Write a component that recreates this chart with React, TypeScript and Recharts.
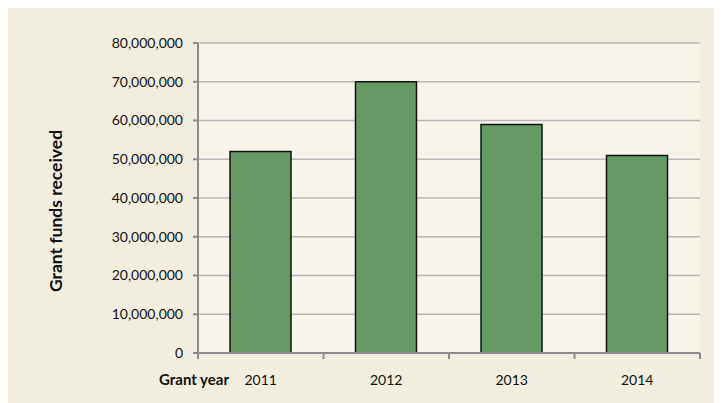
import React from 'react';
import { BarChart, Bar, XAxis, YAxis, CartesianGrid, Label } from 'recharts';

const years = ['2011', '2012', '2013', '2014'];
const grantFunds = [52000000, 70000000, 59000000, 51000000];
const yTicks = [0, 10000000, 20000000, 30000000, 40000000, 50000000, 60000000, 70000000, 80000000];

const data = years.map((y, i) => ({ year: y, funds: grantFunds[i] }));

const FONT = 'Lato, "Open Sans", sans-serif';
const AXIS = '#8c8c8c';

const fmt = (v: number) => v.toLocaleString('en-US');

const XTick = (props: any) => {
  const { x, y, payload, index, visibleTicksCount } = props;
  const off = payload.offset || 0;
  const last = index === visibleTicksCount - 1;
  return (
    <g>
      <line x1={x - off} y1={y} x2={x - off} y2={y + 6} stroke={AXIS} strokeWidth={2} />
      {last && <line x1={x + off} y1={y} x2={x + off} y2={y + 6} stroke={AXIS} strokeWidth={2} />}
      <text x={x} y={y + 32} textAnchor="middle" fontSize={14} fontFamily={FONT} fill="#111">
        {payload.value}
      </text>
    </g>
  );
};

export default function App() {
  return (
    <div style={{ width: 714, height: 395, background: '#f1eedf' }}>
      <BarChart
        width={714}
        height={395}
        data={data}
        margin={{ top: 35, right: 22, bottom: 0, left: 0 }}
        barCategoryGap="25.5%"
      >
        <CartesianGrid
          vertical={false}
          horizontal={true}
          stroke="#b8b8b8"
          strokeWidth={1.5}
          fill="#f7f5ea"
        />
        <XAxis
          dataKey="year"
          height={50}
          tickLine={false}
          tickSize={0}
          tickMargin={0}
          axisLine={{ stroke: AXIS, strokeWidth: 2 }}
          tick={<XTick />}
          interval={0}
        >
          <Label
            value="Grant year"
            position="left"
            offset={-31}
            dy={2}
            style={{ fontFamily: FONT, fontSize: 15, fontWeight: 700, fill: '#111' }}
          />
        </XAxis>
        <YAxis
          width={190}
          domain={[0, 80000000]}
          ticks={yTicks}
          tickFormatter={fmt}
          tickSize={5}
          tickMargin={10}
          interval={0}
          axisLine={{ stroke: AXIS, strokeWidth: 2 }}
          tickLine={{ stroke: AXIS, strokeWidth: 2 }}
          tick={{ fontFamily: FONT, fontSize: 14, fill: '#111' }}
        >
          <Label
            value="Grant funds received"
            angle={-90}
            position="insideLeft"
            offset={48}
            dy={13}
            style={{ fontFamily: FONT, fontSize: 17.5, fontWeight: 700, fill: '#111', textAnchor: 'middle' }}
          />
        </YAxis>
        <YAxis
          yAxisId="right"
          orientation="right"
          width={0}
          tick={false}
          tickLine={false}
          axisLine={{ stroke: AXIS, strokeWidth: 2 }}
          domain={[0, 80000000]}
        />
        <Bar
          dataKey="funds"
          fill="#659966"
          stroke="#111"
          strokeWidth={1.5}
          isAnimationActive={false}
        />
      </BarChart>
    </div>
  );
}
